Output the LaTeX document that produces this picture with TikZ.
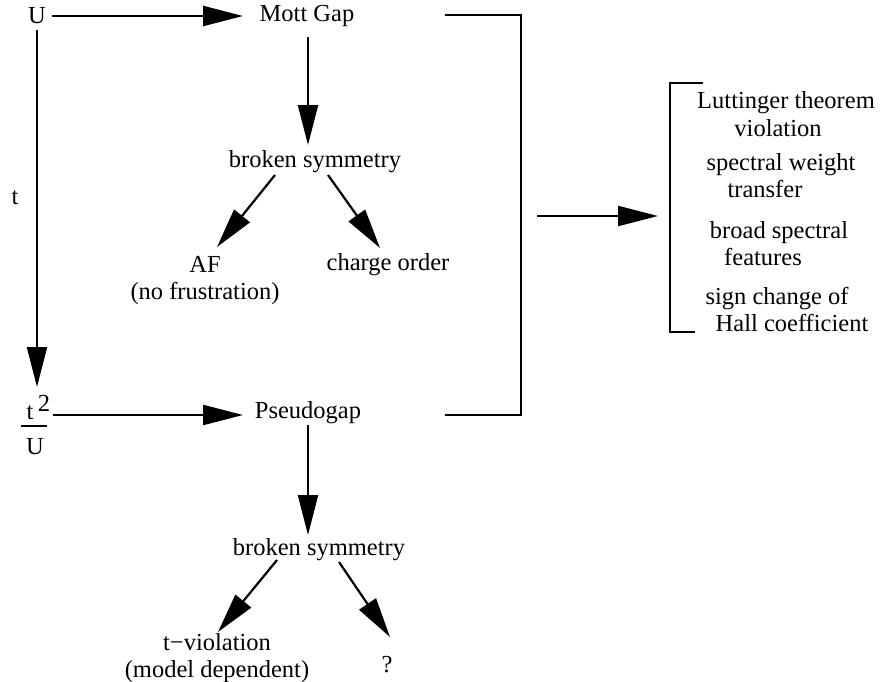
\documentclass[tikz,border=0pt]{standalone}
\usepackage{fontspec}
\setmainfont{Liberation Serif}
\usetikzlibrary{arrows.meta}
\begin{document}
\begin{tikzpicture}[x=1pt,y=-1pt,
  lbl/.style={inner sep=0pt, font=\fontsize{24.5}{27}\selectfont, align=center},
  conn/.style={line width=2.2pt},
  arr/.style={conn, -{Triangle[length=40pt,width=20pt]}}]
\useasboundingbox (0,0) rectangle (883,681);
% nodes
\node[lbl] (U) at (37,16) {U};
\node[lbl] (MG) at (307,16) {Mott Gap};
\node[lbl] (BS1) at (315,162) {broken symmetry};
\node[lbl] (AF) at (205,281) {AF\\(no frustration)};
\node[lbl] (CO) at (388,265) {charge order};
\node[lbl] (tl) at (15,198) {t};
\node[lbl] (ft) at (30,413) {t};
\node[lbl] (f2) at (44,403) {2};
\node[lbl] (fU) at (35,447) {U};
\node[lbl] (PG) at (308,413) {Pseudogap};
\node[lbl] (BS2) at (319,550) {broken symmetry};
\node[lbl] (TV) at (217,658) {t\textminus violation\\(model dependent)};
\node[lbl] (Q) at (387,665) {?};
\node[lbl] (L1) at (786,103) {Luttinger theorem};
\node[lbl] (L2) at (778,128) {violation};
\node[lbl] (L3) at (781,165) {spectral weight};
\node[lbl] (L4) at (765,189) {transfer};
\node[lbl] (L5) at (779,233) {broad spectral};
\node[lbl] (L6) at (763,257) {features};
\node[lbl] (L7) at (777,299) {sign change of};
\node[lbl] (L8) at (792,323) {Hall coefficient};
% connector end points
\coordinate (a1) at (52,16);   \coordinate (a2) at (243,16);
\coordinate (b1) at (37,30);   \coordinate (b2) at (37,387);
\coordinate (c1) at (308,37);  \coordinate (c2) at (308,145);
\coordinate (d1) at (275,175); \coordinate (d2) at (217,247);
\coordinate (e1) at (328,175); \coordinate (e2) at (380,248);
\coordinate (g1) at (53,415);  \coordinate (g2) at (243,415);
\coordinate (h1) at (308,425); \coordinate (h2) at (308,535);
\coordinate (i1) at (277,560); \coordinate (i2) at (218,632);
\coordinate (j1) at (339,562); \coordinate (j2) at (390,637);
\coordinate (k1) at (537,216); \coordinate (k2) at (658,216);
% fraction bar
\draw[conn] (21,426) -- (47,426);
% brackets
\draw[conn] (445,15) -- (521,15) -- (521,415) -- (445,415);
\draw[conn] (703,83) -- (670,83) -- (670,332) -- (695,332);
% arrows
\draw[arr] (a1) -- (a2);
\draw[arr] (b1) -- (b2);
\draw[arr] (c1) -- (c2);
\draw[arr] (d1) -- (d2);
\draw[arr] (e1) -- (e2);
\draw[arr] (g1) -- (g2);
\draw[arr] (h1) -- (h2);
\draw[arr] (i1) -- (i2);
\draw[arr] (j1) -- (j2);
\draw[arr] (k1) -- (k2);
\end{tikzpicture}
\end{document}
